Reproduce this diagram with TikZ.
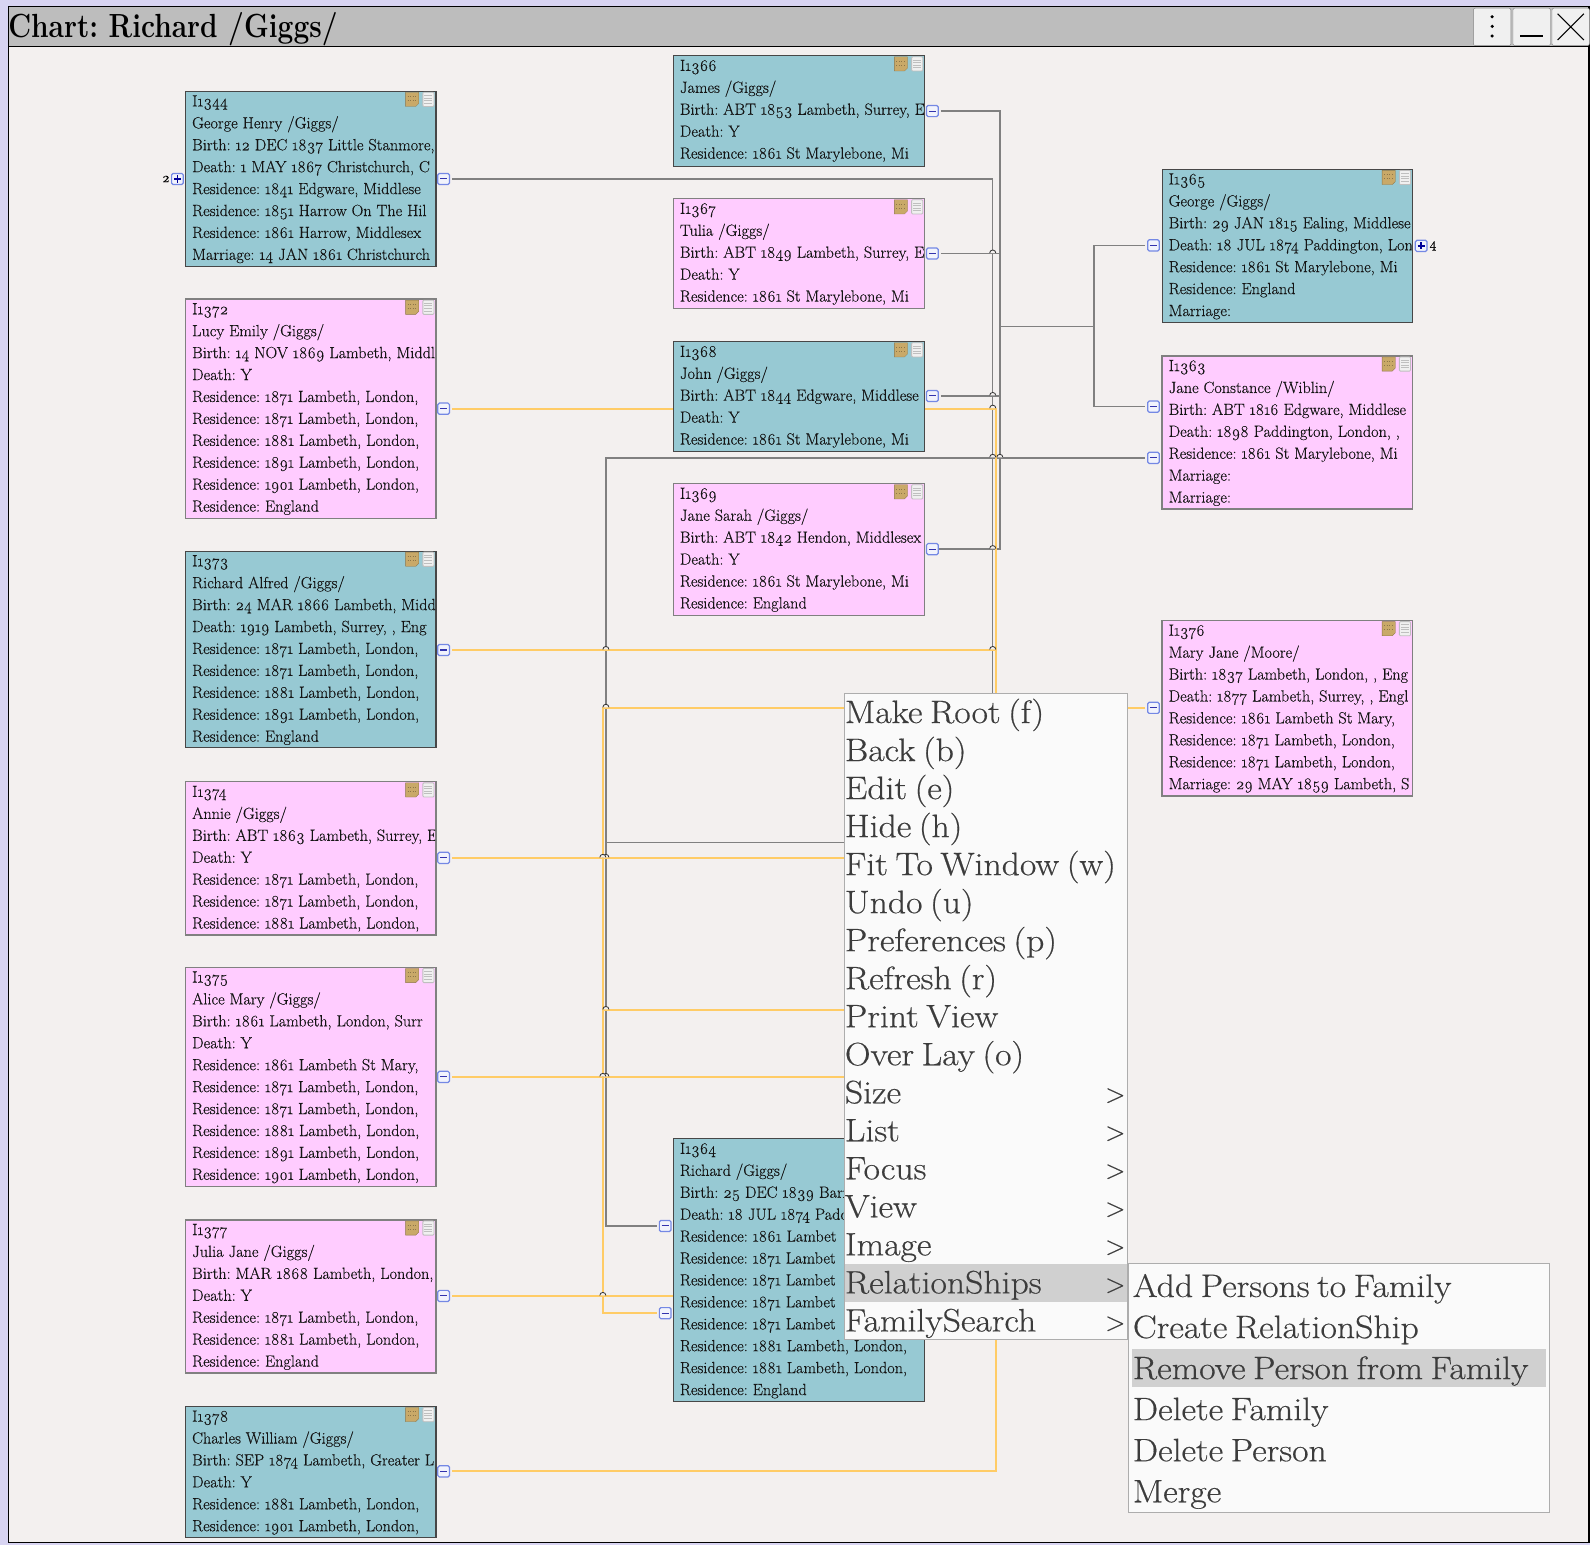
\documentclass[tikz,border=0pt]{standalone}
\usepackage{fontspec}
\setmainfont{Latin Modern Roman}[Numbers=OldStyle]
\newfontfamily\pfont{Latin Modern Roman}[Numbers=OldStyle,FakeBold=0.35]
\newfontfamily\tfont{Latin Modern Roman}[Numbers=OldStyle,BoldFeatures={FakeStretch=0.84}]
\newfontfamily\mfont{Latin Modern Roman}[Numbers=OldStyle,FakeBold=0.45,FakeStretch=1.1,WordSpace=0.7]
\definecolor{bgwin}{HTML}{D8D4F2}
\definecolor{bgchart}{HTML}{F3F0EF}
\definecolor{titlebar}{HTML}{BDBDBD}
\definecolor{male}{HTML}{97C9D3}
\definecolor{female}{HTML}{FFCCFF}
\definecolor{gline}{HTML}{808080}
\definecolor{oline}{HTML}{FFCC66}
\definecolor{btnblue}{HTML}{7488E4}
\definecolor{menubg}{HTML}{FAFAFA}
\definecolor{menutxt}{HTML}{3C3C3C}
\definecolor{menuhi}{HTML}{D0D0D0}
\definecolor{tannote}{HTML}{C9A968}
\pgfdeclarelayer{base}
\pgfdeclarelayer{lines}
\pgfsetlayers{base,lines,main}
\tikzset{
 gl/.style={draw=gline,line width=1.4pt,shorten <=2pt},
 ol/.style={draw=oline,line width=2pt,shorten <=2pt},
 boxm/.style={draw=black!72,line width=1.1pt,fill=male,anchor=north west,inner sep=0pt,outer sep=0pt},
 boxf/.style={draw=black!50,line width=1.3pt,fill=female,anchor=north west,inner sep=0pt,outer sep=0pt},
 ptext/.style={anchor=north west,inner sep=0pt,outer sep=0pt},
 btn/.style={draw=btnblue,line width=1.2pt,fill=white!90!btnblue,rounded corners=1.5pt,minimum width=11.5pt,minimum height=11pt,inner sep=0pt},
 mitem/.style={anchor=base west,inner sep=0pt,text=menutxt,font=\mfont\fontsize{32}{32}\selectfont},
 marrow/.style={anchor=base east,inner sep=0pt,text=menutxt,font=\pfont\fontsize{26}{26}\selectfont},
 hop/.style={draw=black!80,line width=.8pt},
 winbtn/.style={draw=black!50,fill=black!6,rounded corners=2pt,minimum width=37pt,minimum height=37pt,inner sep=0pt},
 cnt/.style={inner sep=0pt,font=\pfont\fontsize{13.5}{13.5}\selectfont},
}
% name, x, y, w, h, style, lines
\newcommand{\person}[7]{%
 \node[#6,minimum width=#4pt,minimum height=#5pt] (#1) at (#2,#3) {};
 \begin{scope}
 \clip (#2,#3) rectangle ++(#4-1,#5);
 \node[ptext] (#1t) at (#2+6.5,#3+4) {\parbox[t]{330pt}{\pfont\fontsize{16}{21.62}\selectfont\frenchspacing\raggedright\color{black!92}#7}};
 \end{scope}
 \fill[tannote,draw=tannote!70!black,line width=.3pt] (#2+#4-30,#3+1) -- (#2+#4-17,#3+1) -- (#2+#4-17,#3+12) -- (#2+#4-20,#3+15) -- (#2+#4-30,#3+15) -- cycle;
 \draw[tannote!70!black,line width=.5pt,dotted] (#2+#4-28,#3+5) -- (#2+#4-19,#3+5) (#2+#4-28,#3+9) -- (#2+#4-19,#3+9);
 \fill[white!94!black,draw=black!25,line width=.8pt,rounded corners=1pt] (#2+#4-13,#3+1) rectangle (#2+#4-2,#3+15);
 \foreach \k in {4,6.5,9,11.5}{\draw[black!25,line width=.5pt] (#2+#4-11.5,#3+\k) -- (#2+#4-3.5,#3+\k);}
}
\newcommand{\minusbtn}[3]{\node[btn] (#1) at (#2,#3) {}; \draw[blue!60!black!80,line width=1pt] (#2-3.5,#3) -- (#2+3.5,#3);}
\newcommand{\plusbtn}[3]{\node[btn] (#1) at (#2,#3) {}; \draw[blue!60!black,line width=1.6pt] (#2-3.5,#3) -- (#2+3.5,#3) (#2,#3-3.5) -- (#2,#3+3.5);}
\newcommand{\hopat}[2]{\fill[bgchart] (#1-3,#2-.5) arc (180:360:3) -- cycle; \draw[hop] (#1-3,#2-.5) arc (180:360:3);}
\begin{document}
\begin{tikzpicture}[x=1pt,y=-1pt]
\useasboundingbox (0,0) rectangle (1568,1523.7);
\begin{pgfonlayer}{base}
\fill[bgwin] (0,0) rectangle (1568,1523.7);
\fill[bgchart,draw=black,line width=1.4pt] (8.5,6.5) rectangle (1567,1521);
\fill[titlebar,draw=black,line width=1.2pt] (8.5,6.5) rectangle (1567,46);
\end{pgfonlayer}
\node[anchor=base west,inner sep=0pt,font=\tfont\bfseries\fontsize{33}{33}\selectfont] (title) at (8,37) {\frenchspacing Chart: Richard /Giggs/};
\node[winbtn] (bmenu) at (1471.5,26.5) {};
\node[winbtn] (bmin) at (1510.5,26.5) {};
\node[winbtn] (bclose) at (1549,26.5) {};
\fill (1471.5,16.5) circle (1.7) (1471.5,26) circle (1.7) (1471.5,35.5) circle (1.7);
\draw[line width=1.2pt] (1499,35.5) -- (1522,35.5);
\draw[line width=1.2pt] (1536,13.5) -- (1562,39.5) (1562,13.5) -- (1536,39.5);

% boxes
\person{p1344}{183}{90}{247}{173}{boxm}{I1344\\George Henry /Giggs/\\Birth: 12 DEC 1837 Little Stanmore,\\Death: 1 MAY 1867 Christchurch, C\\Residence: 1841 Edgware, Middlese\\Residence: 1851 Harrow On The Hil\\Residence: 1861 Harrow, Middlesex\\Marriage: 14 JAN 1861 Christchurch}
\person{p1372}{183}{295}{247}{216}{boxf}{I1372\\Lucy Emily /Giggs/\\Birth: 14 NOV 1869 Lambeth, Middl\\Death: Y\\Residence: 1871 Lambeth, London,\\Residence: 1871 Lambeth, London,\\Residence: 1881 Lambeth, London,\\Residence: 1891 Lambeth, London,\\Residence: 1901 Lambeth, London,\\Residence: England}
\person{p1373}{183}{543.5}{247}{194}{boxm}{I1373\\Richard Alfred /Giggs/\\Birth: 24 MAR 1866 Lambeth, Midd\\Death: 1919 Lambeth, Surrey, , Eng\\Residence: 1871 Lambeth, London,\\Residence: 1871 Lambeth, London,\\Residence: 1881 Lambeth, London,\\Residence: 1891 Lambeth, London,\\Residence: England}
\person{p1374}{183}{771}{247}{151}{boxf}{I1374\\Annie /Giggs/\\Birth: ABT 1863 Lambeth, Surrey, E\\Death: Y\\Residence: 1871 Lambeth, London,\\Residence: 1871 Lambeth, London,\\Residence: 1881 Lambeth, London,}
\person{p1375}{183}{954}{247}{216}{boxf}{I1375\\Alice Mary /Giggs/\\Birth: 1861 Lambeth, London, Surr\\Death: Y\\Residence: 1861 Lambeth St Mary,\\Residence: 1871 Lambeth, London,\\Residence: 1871 Lambeth, London,\\Residence: 1881 Lambeth, London,\\Residence: 1891 Lambeth, London,\\Residence: 1901 Lambeth, London,}
\person{p1377}{183}{1203}{247}{151}{boxf}{I1377\\Julia Jane /Giggs/\\Birth: MAR 1868 Lambeth, London,\\Death: Y\\Residence: 1871 Lambeth, London,\\Residence: 1881 Lambeth, London,\\Residence: England}
\person{p1378}{183}{1387}{247}{129}{boxm}{I1378\\Charles William /Giggs/\\Birth: SEP 1874 Lambeth, Greater L\\Death: Y\\Residence: 1881 Lambeth, London,\\Residence: 1901 Lambeth, London,}
\person{p1366}{664}{55}{248}{109}{boxm}{I1366\\James /Giggs/\\Birth: ABT 1853 Lambeth, Surrey, E\\Death: Y\\Residence: 1861 St Marylebone, Mi}
\person{p1367}{664}{196}{248}{108}{boxf}{I1367\\Tulia /Giggs/\\Birth: ABT 1849 Lambeth, Surrey, E\\Death: Y\\Residence: 1861 St Marylebone, Mi}
\person{p1368}{664}{337}{248}{108}{boxm}{I1368\\John /Giggs/\\Birth: ABT 1844 Edgware, Middlese\\Death: Y\\Residence: 1861 St Marylebone, Mi}
\person{p1369}{664}{477}{248}{130}{boxf}{I1369\\Jane Sarah /Giggs/\\Birth: ABT 1842 Hendon, Middlesex\\Death: Y\\Residence: 1861 St Marylebone, Mi\\Residence: England}
\person{p1364}{664}{1123}{248}{259}{boxm}{I1364\\Richard /Giggs/\\Birth: 25 DEC 1839 Barn\\Death: 18 JUL 1874 Paddi\\Residence: 1861 Lambet\\Residence: 1871 Lambet\\Residence: 1871 Lambet\\Residence: 1871 Lambet\\Residence: 1871 Lambet\\Residence: 1881 Lambeth, London,\\Residence: 1881 Lambeth, London,\\Residence: England}
\person{p1365}{1146}{167}{247}{151}{boxm}{I1365\\George /Giggs/\\Birth: 29 JAN 1815 Ealing, Middlese\\Death: 18 JUL 1874 Paddington, Lon\\Residence: 1861 St Marylebone, Mi\\Residence: England\\Marriage:}
\person{p1363}{1146}{351}{247}{151}{boxf}{I1363\\Jane Constance /Wiblin/\\Birth: ABT 1816 Edgware, Middlese\\Death: 1898 Paddington, London, ,\\Residence: 1861 St Marylebone, Mi\\Marriage:\\Marriage:}
\person{p1376}{1146}{612}{247}{173}{boxf}{I1376\\Mary Jane /Moore/\\Birth: 1837 Lambeth, London, , Eng\\Death: 1877 Lambeth, Surrey, , Engl\\Residence: 1861 Lambeth St Mary,\\Residence: 1871 Lambeth, London,\\Residence: 1871 Lambeth, London,\\Marriage: 29 MAY 1859 Lambeth, S}

% buttons
\minusbtn{m1344}{437.5}{176.5}
\plusbtn{a1344}{175}{176.5}
\node[cnt,anchor=east] (n1344) at (167.5,176.5) {2};
\minusbtn{m1372}{437.5}{403}
\minusbtn{m1373}{437.5}{641}
\minusbtn{m1374}{437.5}{846}
\minusbtn{m1375}{437.5}{1062}
\minusbtn{m1377}{437.5}{1278}
\minusbtn{m1378}{437.5}{1451}
\minusbtn{m1366}{919.5}{109.5}
\minusbtn{m1367}{919.5}{250}
\minusbtn{m1368}{919.5}{390.5}
\minusbtn{m1369}{919.5}{541.5}
\minusbtn{m1364a}{656}{1209}
\minusbtn{m1364b}{656}{1295}
\minusbtn{m1365}{1137.5}{242}
\plusbtn{a1365}{1401.5}{242.5}
\node[cnt,anchor=west] (n1365) at (1409.5,242.5) {4};
\minusbtn{m1363a}{1137.5}{401}
\minusbtn{m1363b}{1137.5}{451.5}
\minusbtn{m1376}{1137.5}{698}

% connector coordinates
\coordinate (tA) at (979,0);
\coordinate (tB) at (986,0);
\coordinate (tO) at (982.2,0);
\coordinate (tL) at (597.5,0);
\coordinate (tM) at (594.5,0);
\coordinate (tR) at (1079,0);
\coordinate (j322) at (986,322);
\coordinate (j831) at (979,831);
\coordinate (j996) at (594.5,996);

\begin{pgfonlayer}{lines}
\draw[gl] (m1366) -- (m1366.center -| tB) -- (m1369.center -| tB) -- (m1369);
\draw[gl] (m1367) -- (m1367.center -| tB);
\draw[gl] (m1368) -- (m1368.center -| tB);
\draw[gl] (m1344) -- (m1344.center -| tA) -- (j831) -- (j831 -| tL);
\draw[gl,shorten >=2pt] (m1364a) -- (m1364a.center -| tL) -- (m1363b.center -| tL) -- (m1363b);
\draw[draw=gline,line width=1.4pt] (j322) -- (j322 -| tR);
\draw[gl,shorten >=2pt] (m1365) -- (m1365.center -| tR) -- (m1363a.center -| tR) -- (m1363a);
\draw[ol,shorten >=2pt] (m1378) -- (m1378.center -| tO) -- (m1372.center -| tO) -- (m1372);
\draw[ol] (m1373) -- (m1373.center -| tO);
\draw[ol] (m1374) -- (m1374.center -| tO);
\draw[ol] (m1375) -- (m1375.center -| tO);
\draw[ol] (m1377) -- (m1377.center -| tO);
\draw[ol,shorten >=2pt] (m1376) -- (m1376.center -| tM) -- (m1364b.center -| tM) -- (m1364b);
\draw[draw=oline,line width=2pt] (j996) -- (j996 -| tO);
\end{pgfonlayer}

% line hops
\foreach \y in {250,390.5,403,451.5,541.5,641}{\hopat{979}{\y}}
\hopat{986}{451.5}
\foreach \y in {641,698,846,996,1062}{\hopat{597.5}{\y}}
\foreach \y in {846,1062,1278}{\hopat{594.5}{\y}}

% context menu
\node[draw=black!32,fill=menubg,line width=1pt,anchor=north west,inner sep=0pt,outer sep=0pt,minimum width=279pt,minimum height=637pt] (menu) at (833,684) {};
\fill[menuhi] (833.5,1246) rectangle (1111.5,1283.5);
\node[mitem] (i1) at (833,713) {Make Root (f)};
\node[mitem] (i2) at (833,750.5) {Back (b)};
\node[mitem] (i3) at (833,788) {Edit (e)};
\node[mitem] (i4) at (833,825.5) {Hide (h)};
\node[mitem] (i5) at (833,863) {Fit To Window (w)};
\node[mitem] (i6) at (833,900.5) {Undo (u)};
\node[mitem] (i7) at (833,938) {Preferences (p)};
\node[mitem] (i8) at (833,975.5) {Refresh (r)};
\node[mitem] (i9) at (833,1013) {Print View};
\node[mitem] (i10) at (833,1050.5) {Over Lay (o)};
\node[mitem] (i11) at (833,1088) {Size};
\node[mitem] (i12) at (833,1125.5) {List};
\node[mitem] (i13) at (833,1163) {Focus};
\node[mitem] (i14) at (833,1200.5) {View};
\node[mitem] (i15) at (833,1238) {Image};
\node[mitem] (i16) at (833,1275.5) {RelationShips};
\node[mitem] (i17) at (833,1313) {FamilySearch};
\node[marrow] (a11) at (1110,1087) {>};
\node[marrow] (a12) at (1110,1124.5) {>};
\node[marrow] (a13) at (1110,1162) {>};
\node[marrow] (a14) at (1110,1199.5) {>};
\node[marrow] (a15) at (1110,1237) {>};
\node[marrow] (a16) at (1110,1274.5) {>};
\node[marrow] (a17) at (1110,1312) {>};

% submenu
\node[draw=black!32,fill=menubg,line width=1pt,anchor=north west,inner sep=0pt,outer sep=0pt,minimum width=415pt,minimum height=246pt] (sub) at (1113,1246) {};
\fill[menuhi] (1116.5,1330.5) rectangle (1524.5,1368);
\node[mitem] (s1) at (1117,1279) {Add Persons to Family};
\node[mitem] (s2) at (1117,1319.5) {Create RelationShip};
\node[mitem] (s3) at (1117,1360) {Remove Person from Family};
\node[mitem] (s4) at (1117,1400.5) {Delete Family};
\node[mitem] (s5) at (1117,1441) {Delete Person};
\node[mitem] (s6) at (1117,1481.5) {Merge};
\end{tikzpicture}
\end{document}
